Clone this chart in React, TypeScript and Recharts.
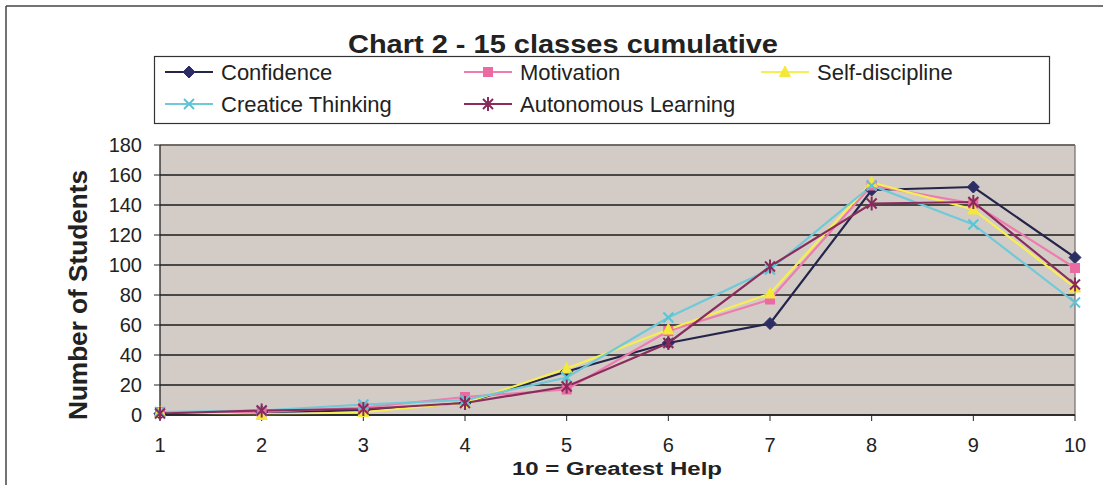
import React from 'react';
import { LineChart, Line, XAxis, YAxis, CartesianGrid, Legend, ReferenceLine } from 'recharts';

const categories = [1, 2, 3, 4, 5, 6, 7, 8, 9, 10];
const confidence = [1, 2, 3, 8, 29, 48, 61, 150, 152, 105];
const motivation = [2, 2, 5, 12, 17, 56, 77, 153, 141, 98];
const selfDiscipline = [2, 0, 2, 8, 31, 57, 81, 155, 137, 85];
const creativeThinking = [2, 3, 7, 10, 25, 65, 97, 153, 127, 75];
const autonomousLearning = [1, 3, 4, 8, 19, 48, 99, 141, 142, 87];
const yTicks = [0, 20, 40, 60, 80, 100, 120, 140, 160, 180];

const FONT = '"Liberation Sans", Arial, sans-serif';

type Shape = 'diamond' | 'square' | 'triangle' | 'x' | 'star';

const series: { key: string; name: string; values: number[]; color: string; marker: string; shape: Shape }[] = [
  { key: 'confidence', name: 'Confidence', values: confidence, color: '#25254c', marker: '#2d2d66', shape: 'diamond' },
  { key: 'motivation', name: 'Motivation', values: motivation, color: '#ee7cae', marker: '#ec6aa2', shape: 'square' },
  { key: 'selfDiscipline', name: 'Self-discipline', values: selfDiscipline, color: '#f7ef52', marker: '#f4e83a', shape: 'triangle' },
  { key: 'creative', name: 'Creatice Thinking', values: creativeThinking, color: '#70c9d8', marker: '#5cc3d4', shape: 'x' },
  { key: 'autonomous', name: 'Autonomous Learning', values: autonomousLearning, color: '#8a2d5d', marker: '#8a2a5a', shape: 'star' },
];

const data = categories.map((c, i) => {
  const row: Record<string, number> = { x: c };
  series.forEach((s) => {
    row[s.key] = s.values[i];
  });
  return row;
});

function Marker({ cx, cy, shape, color }: { cx: number; cy: number; shape: Shape; color: string }) {
  if (cx == null || cy == null || isNaN(cx) || isNaN(cy)) return null;
  switch (shape) {
    case 'diamond':
      return <polygon points={`${cx},${cy - 6} ${cx + 6},${cy} ${cx},${cy + 6} ${cx - 6},${cy}`} fill={color} stroke={color} strokeWidth={1} />;
    case 'square':
      return <rect x={cx - 4.5} y={cy - 4.5} width={9} height={9} fill={color} stroke={color} />;
    case 'triangle':
      return <polygon points={`${cx},${cy - 6} ${cx + 5.5},${cy + 4.5} ${cx - 5.5},${cy + 4.5}`} fill={color} stroke={color} />;
    case 'x':
      return (
        <g stroke={color} strokeWidth={2}>
          <line x1={cx - 5} y1={cy - 5} x2={cx + 5} y2={cy + 5} />
          <line x1={cx - 5} y1={cy + 5} x2={cx + 5} y2={cy - 5} />
        </g>
      );
    case 'star':
      return (
        <g stroke={color} strokeWidth={2}>
          <line x1={cx - 5} y1={cy - 5} x2={cx + 5} y2={cy + 5} />
          <line x1={cx - 5} y1={cy + 5} x2={cx + 5} y2={cy - 5} />
          <line x1={cx} y1={cy - 7} x2={cx} y2={cy + 7} />
        </g>
      );
  }
  return null;
}

const legendCols = [67, 366, 663];
const legendRows = [24, 56];

function LegendBox() {
  return (
    <svg width={896} height={69} style={{ display: 'block', overflow: 'visible' }}>
      <rect x={0.5} y={0.5} width={895} height={67} fill="#fff" stroke="#333" strokeWidth={1.2} />
      {series.map((s, i) => {
        const tx = legendCols[i % 3];
        const by = legendRows[Math.floor(i / 3)];
        const cy = by - 8;
        return (
          <g key={s.key}>
            <line x1={tx - 56} y1={cy} x2={tx - 8} y2={cy} stroke={s.color} strokeWidth={2} />
            <Marker cx={tx - 32} cy={cy} shape={s.shape} color={s.marker} />
            <text x={tx} y={by} fontSize={22} fontFamily={FONT} fill="#222">
              {s.name}
            </text>
          </g>
        );
      })}
    </svg>
  );
}

export default function App() {
  return (
    <div style={{ position: 'absolute', left: 0, top: 0, width: 1103, height: 485, background: '#fff' }}>
      <LineChart
        width={1103}
        height={485}
        data={data}
        margin={{ top: 145, right: 28, bottom: 0, left: 0 }}
        style={{ fontFamily: FONT }}
      >
        <CartesianGrid vertical={false} stroke="#1c1c1c" strokeWidth={1.3} fill="#d3ccc6" fillOpacity={1} />
        <ReferenceLine y={180} stroke="#7a7672" strokeWidth={1.3} />
        <ReferenceLine x={10} stroke="#7a7672" strokeWidth={1.3} />
        <XAxis
          dataKey="x"
          type="number"
          domain={[1, 10]}
          ticks={categories}
          height={70}
          tickSize={6}
          tickMargin={17}
          axisLine={{ stroke: '#222', strokeWidth: 1.3 }}
          tickLine={{ stroke: '#222' }}
          tick={{ fill: '#222', fontSize: 20, fontFamily: FONT }}
          interval={0}
        />
        <YAxis
          type="number"
          domain={[0, 180]}
          ticks={yTicks}
          width={160}
          tickSize={6}
          tickMargin={12}
          axisLine={{ stroke: '#222', strokeWidth: 1.3 }}
          tickLine={{ stroke: '#222' }}
          tick={{ fill: '#222', fontSize: 20, fontFamily: FONT }}
          interval={0}
        />
        <Legend
          layout="horizontal"
          verticalAlign="middle"
          align="center"
          wrapperStyle={{ position: 'absolute', left: 154, top: 56, width: 896, height: 69 }}
          content={() => <LegendBox />}
        />
        {series.map((s) => (
          <Line
            key={s.key}
            type="linear"
            dataKey={s.key}
            name={s.name}
            stroke={s.color}
            strokeWidth={2.2}
            isAnimationActive={false}
            dot={(p: any) => <Marker key={`${s.key}-${p.index}`} cx={p.cx} cy={p.cy} shape={s.shape} color={s.marker} />}
            activeDot={false}
          />
        ))}
      </LineChart>
      <svg
        width={1103}
        height={485}
        style={{ position: 'absolute', left: 0, top: 0, pointerEvents: 'none' }}
      >
        <line x1={6} y1={6} x2={1103} y2={6} stroke="#444" strokeWidth={1.5} />
        <line x1={6} y1={6} x2={6} y2={485} stroke="#444" strokeWidth={1.5} />
        <text
          x={563}
          y={53}
          textAnchor="middle"
          fontSize={26}
          fontWeight="bold"
          fontFamily={FONT}
          fill="#222"
          textLength={430}
          lengthAdjust="spacingAndGlyphs"
        >
          Chart 2 - 15 classes cumulative
        </text>
        <text
          x={617}
          y={475}
          textAnchor="middle"
          fontSize={18}
          fontWeight="bold"
          fontFamily={FONT}
          fill="#222"
          textLength={210}
          lengthAdjust="spacingAndGlyphs"
        >
          10 = Greatest Help
        </text>
        <text
          transform="translate(87, 295) rotate(-90)"
          x={0}
          y={0}
          textAnchor="middle"
          fontSize={25}
          fontWeight="bold"
          fontFamily={FONT}
          fill="#222"
          textLength={250}
          lengthAdjust="spacingAndGlyphs"
        >
          Number of Students
        </text>
      </svg>
    </div>
  );
}
